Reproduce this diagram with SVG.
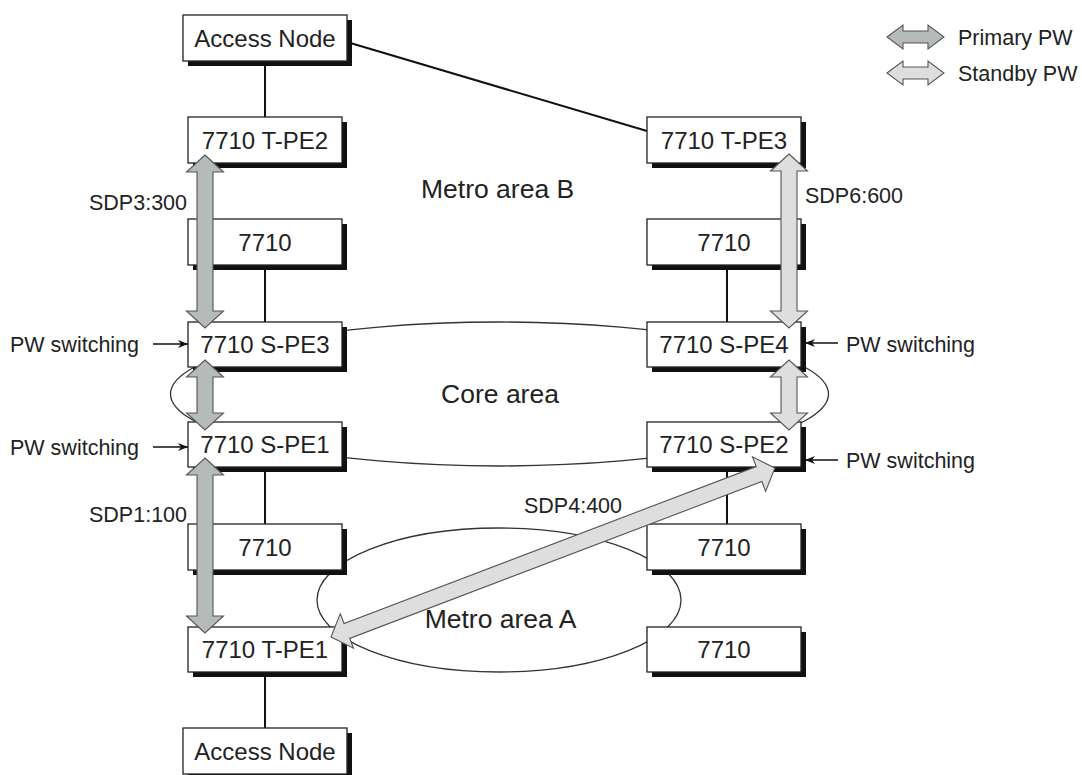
<svg xmlns="http://www.w3.org/2000/svg" width="1082" height="775" viewBox="0 0 1082 775">
<defs>
<style>
text{font-family:"Liberation Sans",Arial,sans-serif;fill:#222}
.lbl{font-size:24px;text-anchor:middle}
.area{font-size:26.5px;text-anchor:middle}
.sm{font-size:21.5px}
.box{fill:#fff;stroke:#222;stroke-width:1.3}
.sh{fill:#111}
.ln{stroke:#111;stroke-width:2;fill:none}
.thin{stroke:#333;stroke-width:1.3;fill:none}
.pri{fill:#b5baba;stroke:#555;stroke-width:1.1;stroke-linejoin:miter}
.stb{fill:#dedede;stroke:#555;stroke-width:1.1;stroke-linejoin:miter}
.pw{stroke:#111;stroke-width:1.3;fill:none}
</style>
<marker id="ah" viewBox="0 0 10 8" refX="10" refY="4" markerWidth="10" markerHeight="8" markerUnits="userSpaceOnUse" orient="auto">
<path d="M0,0 L10,4 L0,8 L3,4 Z" fill="#111"/>
</marker>
</defs>
<rect width="1082" height="775" fill="#fff"/>

<g id="areas">
<ellipse cx="499.5" cy="394" rx="329" ry="72" class="thin"/>
<ellipse cx="499" cy="600" rx="182" ry="72" class="thin"/>
</g>

<g id="connectors">
<line x1="265" y1="61" x2="265" y2="117" class="ln"/>
<line x1="265" y1="265" x2="265" y2="322" class="ln"/>
<line x1="265" y1="467" x2="265" y2="524" class="ln"/>
<line x1="265" y1="672" x2="265" y2="728" class="ln"/>
<line x1="727" y1="265" x2="727" y2="322" class="ln"/>
<line x1="727" y1="467" x2="727" y2="524" class="ln"/>
<line x1="347" y1="42" x2="647" y2="131" class="ln"/>
</g>

<g id="access-top"><rect x="188" y="20" width="164" height="46" class="sh"/><rect x="183" y="15" width="164" height="46" class="box"/><text x="265" y="47" class="lbl">Access Node</text></g>
<g id="tpe2"><rect x="193" y="122" width="154" height="46" class="sh"/><rect x="188" y="117" width="154" height="46" class="box"/><text x="265" y="148.5" class="lbl">7710 T-PE2</text></g>
<g id="n7710-l1"><rect x="193" y="224" width="154" height="46" class="sh"/><rect x="188" y="219" width="154" height="46" class="box"/><text x="265" y="250.5" class="lbl">7710</text></g>
<g id="spe3"><rect x="193" y="327" width="154" height="45" class="sh"/><rect x="188" y="322" width="154" height="45" class="box"/><text x="265" y="353" class="lbl">7710 S-PE3</text></g>
<g id="spe1"><rect x="193" y="427" width="154" height="45" class="sh"/><rect x="188" y="422" width="154" height="45" class="box"/><text x="265" y="453" class="lbl">7710 S-PE1</text></g>
<g id="n7710-l2"><rect x="193" y="529" width="154" height="46" class="sh"/><rect x="188" y="524" width="154" height="46" class="box"/><text x="265" y="555.5" class="lbl">7710</text></g>
<g id="tpe1"><rect x="193" y="632" width="154" height="45" class="sh"/><rect x="188" y="627" width="154" height="45" class="box"/><text x="265" y="658" class="lbl">7710 T-PE1</text></g>
<g id="access-bottom"><rect x="188" y="733" width="164" height="46" class="sh"/><rect x="183" y="728" width="164" height="46" class="box"/><text x="265" y="760" class="lbl">Access Node</text></g>

<g id="tpe3"><rect x="652" y="122" width="154" height="46" class="sh"/><rect x="647" y="117" width="154" height="46" class="box"/><text x="724" y="148.5" class="lbl">7710 T-PE3</text></g>
<g id="n7710-r1"><rect x="652" y="224" width="154" height="46" class="sh"/><rect x="647" y="219" width="154" height="46" class="box"/><text x="724" y="250.5" class="lbl">7710</text></g>
<g id="spe4"><rect x="652" y="327" width="154" height="45" class="sh"/><rect x="647" y="322" width="154" height="45" class="box"/><text x="724" y="353" class="lbl">7710 S-PE4</text></g>
<g id="spe2"><rect x="652" y="427" width="154" height="45" class="sh"/><rect x="647" y="422" width="154" height="45" class="box"/><text x="724" y="453" class="lbl">7710 S-PE2</text></g>
<g id="n7710-r2"><rect x="652" y="529" width="154" height="46" class="sh"/><rect x="647" y="524" width="154" height="46" class="box"/><text x="724" y="555.5" class="lbl">7710</text></g>
<g id="n7710-r3"><rect x="652" y="632" width="154" height="45" class="sh"/><rect x="647" y="627" width="154" height="45" class="box"/><text x="724" y="658" class="lbl">7710</text></g>

<g id="pseudowires">
<path class="pri" d="M205,155 L223.5,172 L213,172 L213,311 L223.5,311 L205,328 L186.5,311 L197,311 L197,172 L186.5,172 Z"/>
<path class="pri" d="M205,360 L223.5,377 L213,377 L213,413 L223.5,413 L205,430 L186.5,413 L197,413 L197,377 L186.5,377 Z"/>
<path class="pri" d="M205,458 L223.5,475 L213,475 L213,616 L223.5,616 L205,633 L186.5,616 L197,616 L197,475 L186.5,475 Z"/>
<path class="stb" d="M789,154 L807.5,171 L797,171 L797,311 L807.5,311 L789,328 L770.5,311 L781,311 L781,171 L770.5,171 Z"/>
<path class="stb" d="M789,360 L807.5,377 L797,377 L797,413 L807.5,413 L789,430 L770.5,413 L781,413 L781,377 L770.5,377 Z"/>
<path class="stb" transform="translate(331,637) rotate(-20.84)" d="M0,0 L17,-18.5 L17,-8 L458,-8 L458,-18.5 L475,0 L458,18.5 L458,8 L17,8 L17,18.5 Z"/>
</g>

<g id="labels">
<text x="421" y="198" class="area" text-anchor="start" style="text-anchor:start">Metro area B</text>
<text x="500" y="403" class="area">Core area</text>
<text x="500.5" y="628" class="area">Metro area A</text>
<text x="89" y="210" class="sm">SDP3:300</text>
<text x="805" y="203" class="sm">SDP6:600</text>
<text x="89" y="522" class="sm">SDP1:100</text>
<text x="524" y="513" class="sm">SDP4:400</text>
</g>

<g id="pw-switching">
<text x="10" y="352" class="sm">PW switching</text>
<line x1="153" y1="344" x2="188" y2="344" class="pw" marker-end="url(#ah)"/>
<text x="10" y="455" class="sm">PW switching</text>
<line x1="153" y1="447" x2="188" y2="447" class="pw" marker-end="url(#ah)"/>
<text x="846" y="352" class="sm">PW switching</text>
<line x1="838" y1="343" x2="805" y2="343" class="pw" marker-end="url(#ah)"/>
<text x="846" y="468" class="sm">PW switching</text>
<line x1="838" y1="460" x2="805" y2="460" class="pw" marker-end="url(#ah)"/>
</g>

<g id="legend">
<path class="pri" d="M887,37 L903,25 L903,31 L928,31 L928,25 L944,37 L928,49 L928,43 L903,43 L903,49 Z"/>
<text x="958" y="45" class="sm">Primary PW</text>
<path class="stb" d="M887,73 L903,61 L903,67 L928,67 L928,61 L944,73 L928,85 L928,79 L903,79 L903,85 Z"/>
<text x="958" y="81" class="sm">Standby PW</text>
</g>
</svg>
